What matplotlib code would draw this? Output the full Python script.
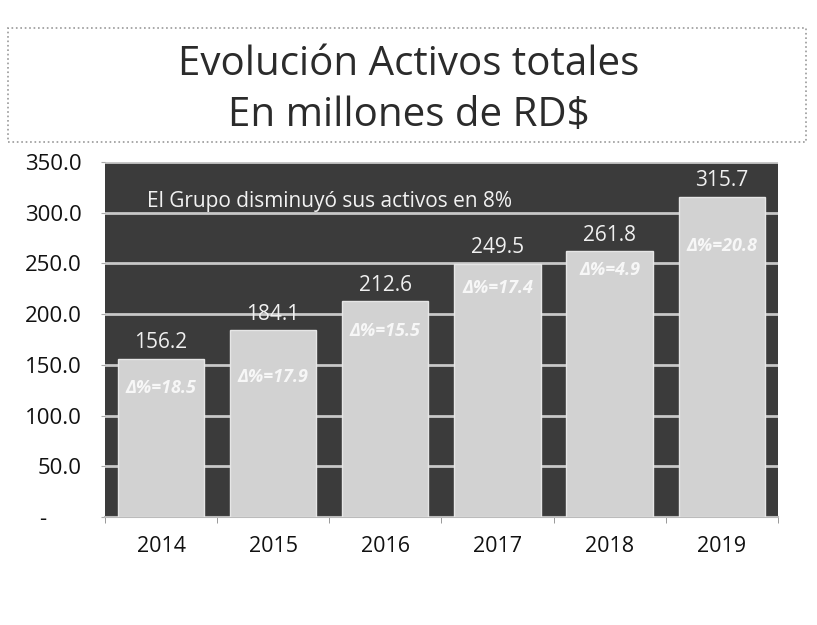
import matplotlib
matplotlib.use('Agg')
from matplotlib import pyplot as plt
from matplotlib.patches import Rectangle
import numpy as np

# data
years = ['2014', '2015', '2016', '2017', '2018', '2019']
activos = [156.2, 184.1, 212.6, 249.5, 261.8, 315.7]
variacion = ['18.5', '17.9', '15.5', '17.4', '4.9', '20.8']
yticks = [0, 50, 100, 150, 200, 250, 300, 350]
ytick_labels = ['-      ', '50.0', '100.0', '150.0', '200.0', '250.0', '300.0', '350.0']
titulo = 'Evolución Activos totales\nEn millones de RD$'
nota = 'El Grupo disminuyó sus activos en 8%'

plt.rcParams['font.family'] = ['Open Sans', 'DejaVu Sans']

fig = plt.figure(figsize=(8.17, 6.25), dpi=100)
fig.patch.set_facecolor('white')

# title box
box = Rectangle((0.010, 0.773), 0.977, 0.182, transform=fig.transFigure,
                facecolor='white', edgecolor='#999999', linestyle=':', linewidth=1.2)
fig.patches.append(box)
fig.text(0.5, 0.856, titulo, ha='center', va='center', fontsize=29,
         color='#2b2b2b', linespacing=1.36)

ax = fig.add_axes([0.1285, 0.1728, 0.8235, 0.568])
ax.set_facecolor('#3b3b3b')

x = np.arange(len(years))
ax.set_axisbelow(True)
ax.yaxis.grid(True, color='#c8c8c8', linewidth=2)
bars = ax.bar(x, activos, width=0.77, color='#d2d2d2', edgecolor='#e6e6e6', linewidth=1, zorder=3)

ax.set_xlim(-0.5, len(years) - 0.5)
ax.set_ylim(0, 350)
ax.set_yticks(yticks)
ax.set_yticklabels(ytick_labels, fontsize=16, color='#111111')
ax.set_xticks(x)
ax.set_xticklabels(years, fontsize=15.5, color='#111111')
ax.tick_params(axis='x', length=0, pad=14)
ax.tick_params(axis='y', length=3, color='#aaaaaa', pad=14)
ax.set_xticks(np.arange(-0.5, len(years)), minor=True)
ax.tick_params(axis='x', which='minor', length=4, color='#888888')
for s in ['top', 'right', 'left']:
    ax.spines[s].set_visible(False)
ax.spines['bottom'].set_color('#bbbbbb')
ax.spines['bottom'].set_linewidth(1.5)

# value labels above bars
for xi, v in zip(x, activos):
    ax.annotate(f'{v:.1f}', (xi, v), xytext=(0, 4), textcoords='offset points',
                ha='center', va='bottom', fontsize=15, color='#f0f0f0', zorder=4)

# change labels inside bars
desc = [15, 27, 15, 11, 7, 29]
for xi, v, d, o in zip(x, activos, variacion, desc):
    ax.annotate(f'Δ%={d}', (xi, v), xytext=(0, -o), textcoords='offset points',
                ha='center', va='top', fontsize=13, color='#f7f7f7',
                fontweight='bold', fontstyle='italic', zorder=4)

ax.text(0.062, 0.89, nota, transform=ax.transAxes, fontsize=15,
        color='#f2f2f2', ha='left', va='center', zorder=4)

fig.savefig('out.png', dpi=100)
